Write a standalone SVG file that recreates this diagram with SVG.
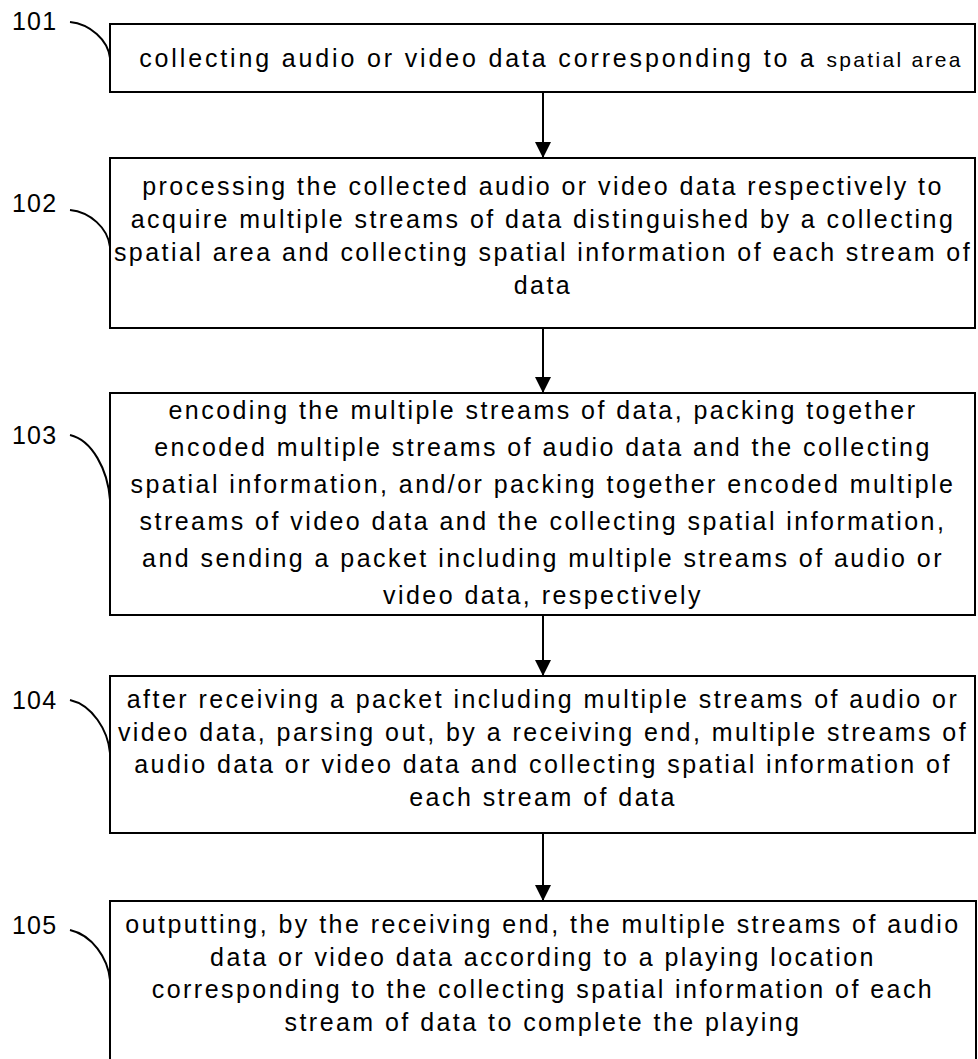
<svg xmlns="http://www.w3.org/2000/svg" width="978" height="1059" viewBox="0 0 978 1059">
<defs>
<style>
.box{fill:#fff;stroke:#000;stroke-width:2}
.t{font-family:"Liberation Sans",Arial,sans-serif;font-size:25px;letter-spacing:2.45px;fill:#000;text-anchor:middle}
.t1{letter-spacing:2.85px}
.sm{font-size:21px;letter-spacing:2.3px}
.lab{font-family:"Liberation Sans",Arial,sans-serif;font-size:25px;letter-spacing:1.2px;fill:#000}
.lead{fill:none;stroke:#000;stroke-width:2}
.conn{stroke:#000;stroke-width:2}
</style>
<marker id="ah" viewBox="0 0 16 16" refX="16" refY="8" markerWidth="16" markerHeight="16" markerUnits="userSpaceOnUse" orient="auto">
<path d="M0,0 L16,8 L0,16 z" fill="#000"/>
</marker>
</defs>
<rect width="978" height="1059" fill="#fff"/>
<g id="connectors">
<line class="conn" x1="543" y1="93" x2="543" y2="158" marker-end="url(#ah)"/>
<line class="conn" x1="543" y1="328" x2="543" y2="393" marker-end="url(#ah)"/>
<line class="conn" x1="543" y1="615" x2="543" y2="676" marker-end="url(#ah)"/>
<line class="conn" x1="543" y1="833" x2="543" y2="901" marker-end="url(#ah)"/>
</g>
<g id="n101">
<text class="lab" x="12" y="30">101</text>
<path class="lead" d="M70,22 C90,24 108,40 110,58"/>
<rect class="box" x="110" y="24" width="865" height="68"/>
<text class="t t1" x="551" y="67">collecting audio or video data corresponding to a <tspan class="sm">spatial area</tspan></text>
</g>
<g id="n102">
<text class="lab" x="12" y="212">102</text>
<path class="lead" d="M70,210 C90,212 108,228 110,247"/>
<rect class="box" x="110" y="158" width="865" height="170"/>
<text class="t" x="543" y="195">processing the collected audio or video data respectively to</text>
<text class="t" x="543" y="228">acquire multiple streams of data distinguished by a collecting</text>
<text class="t" x="543" y="261">spatial area and collecting spatial information of each stream of</text>
<text class="t" x="543" y="294">data</text>
</g>
<g id="n103">
<text class="lab" x="12" y="444">103</text>
<path class="lead" d="M70,435 C92,440 108,470 110,500"/>
<rect class="box" x="110" y="393" width="865" height="222"/>
<text class="t" x="543" y="419">encoding the multiple streams of data, packing together</text>
<text class="t" x="543" y="456">encoded multiple streams of audio data and the collecting</text>
<text class="t" x="543" y="493">spatial information, and/or packing together encoded multiple</text>
<text class="t" x="543" y="530">streams of video data and the collecting spatial information,</text>
<text class="t" x="543" y="567">and sending a packet including multiple streams of audio or</text>
<text class="t" x="543" y="604">video data, respectively</text>
</g>
<g id="n104">
<text class="lab" x="12" y="709">104</text>
<path class="lead" d="M70,700 C92,705 108,730 110,753"/>
<rect class="box" x="110" y="676" width="865" height="157"/>
<text class="t" x="543" y="708">after receiving a packet including multiple streams of audio or</text>
<text class="t" x="543" y="741">video data, parsing out, by a receiving end, multiple streams of</text>
<text class="t" x="543" y="773">audio data or video data and collecting spatial information of</text>
<text class="t" x="543" y="806">each stream of data</text>
</g>
<g id="n105">
<text class="lab" x="12" y="934">105</text>
<path class="lead" d="M70,930 C92,935 108,958 110,980"/>
<rect class="box" x="110" y="901" width="866" height="170"/>
<text class="t" x="543" y="933">outputting, by the receiving end, the multiple streams of audio</text>
<text class="t" x="543" y="966">data or video data according to a playing location</text>
<text class="t" x="543" y="998">corresponding to the collecting spatial information of each</text>
<text class="t" x="543" y="1031">stream of data to complete the playing</text>
</g>
</svg>
